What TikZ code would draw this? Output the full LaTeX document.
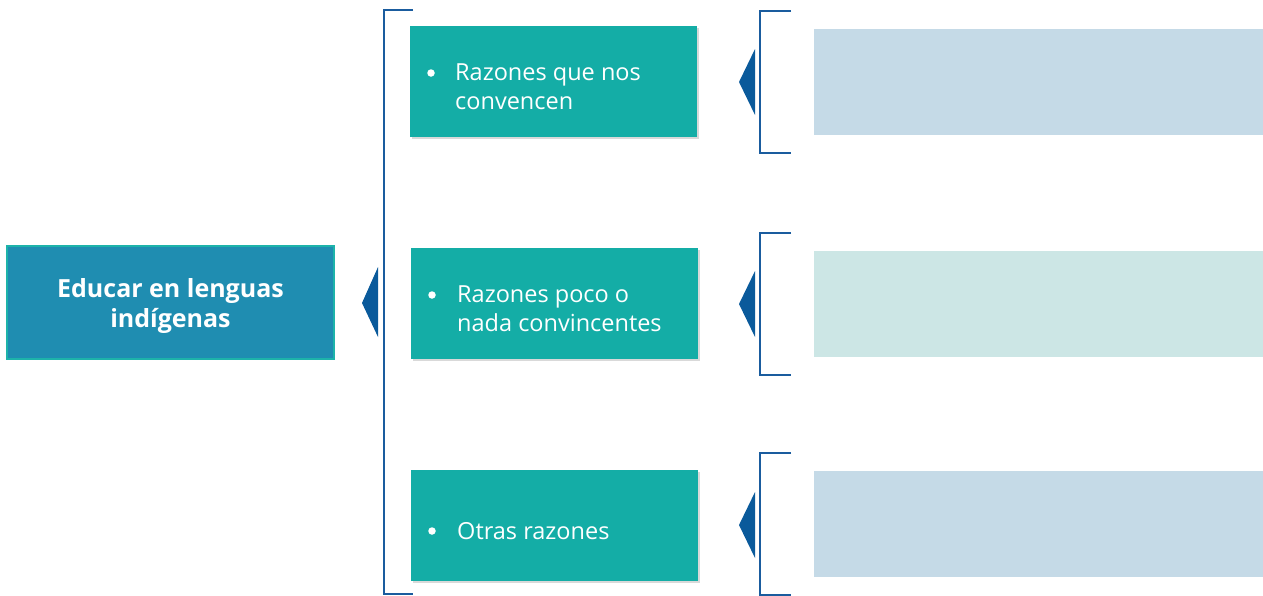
\documentclass[tikz,border=0pt]{standalone}
\usepackage{fontspec}
\setmainfont{Open Sans}
\usetikzlibrary{shadows,positioning}
\definecolor{mainblue}{HTML}{1F8DB1}
\definecolor{mainedge}{HTML}{1DB3AA}
\definecolor{teal}{HTML}{14ADA6}
\definecolor{brk}{HTML}{1A5C9E}
\definecolor{tri}{HTML}{0A5A9B}
\definecolor{paleblue}{HTML}{C5DAE7}
\definecolor{paleteal}{HTML}{CCE6E5}
\tikzset{
  x=1pt,y=-1pt,
  mainbox/.style={draw=mainedge,line width=1.2pt,fill=mainblue,inner sep=0pt},
  maintext/.style={text=white,font=\fontsize{25}{30}\selectfont\bfseries,align=center,inner sep=0pt},
  reasonbox/.style={fill=teal,text=white,inner sep=0pt,drop shadow={opacity=0.3,shadow xshift=2pt,shadow yshift=-2pt}},
  reasontext/.style={text=white,font=\fontsize{23.5}{29}\selectfont,align=left,anchor=west,inner sep=0pt},
  answerbox/.style={inner sep=0pt},
  brack/.style={draw=brk,line width=2.4pt},
  pointer/.style={fill=tri},
  dot/.style={fill=white,circle,inner sep=0pt,minimum size=7.5pt},
}
\begin{document}
\begin{tikzpicture}
\useasboundingbox (0,0) rectangle (1263,595);
% main box
\node[mainbox,minimum width=327pt,minimum height=113pt] (main) at (170.5,302.5) {};
\node[maintext] (mt) at (170.5,306) {Educar en lenguas\\indígenas};
% big bracket
\coordinate (bt) at (413,10);
\coordinate (bb) at (413,594);
\draw[brack] (bt) -- (384,10) -- (384,594) -- (bb);
\fill[pointer] (362,303) -- (378,267) -- (378,337) -- cycle;
% reason boxes
\node[reasonbox,minimum width=287pt,minimum height=111pt] (r1) at (553.5,81.5) {};
\node[reasonbox,minimum width=287pt,minimum height=111pt] (r2) at (554.5,303.5) {};
\node[reasonbox,minimum width=287pt,minimum height=111pt] (r3) at (554.5,525.5) {};
\node[reasontext] (t1) at (455,87) {Razones que nos\\convencen};
\node[reasontext] (t2) at (457,309) {Razones poco o\\nada convincentes};
\node[reasontext] (t3) at (457,531) {Otras razones};
\node[dot] (b1) at (431,73) {};
\node[dot] (b2) at (432,295) {};
\node[dot] (b3) at (432,531) {};
% right brackets and pointers
\foreach \yt/\yb/\ym in {11/153/82, 233/375/304, 453/595/525}{
  \draw[brack] (791,\yt) -- (760,\yt) -- (760,\yb) -- (791,\yb);
  \fill[pointer] (739,\ym) -- (755,\ym-33) -- (755,\ym+33) -- cycle;
}
% answer boxes
\node[answerbox,fill=paleblue,minimum width=449pt,minimum height=106pt] (a1) at (1038.5,81.5) {};
\node[answerbox,fill=paleteal,minimum width=449pt,minimum height=106pt] (a2) at (1038.5,303.5) {};
\node[answerbox,fill=paleblue,minimum width=449pt,minimum height=106pt] (a3) at (1038.5,523.5) {};
\end{tikzpicture}
\end{document}
